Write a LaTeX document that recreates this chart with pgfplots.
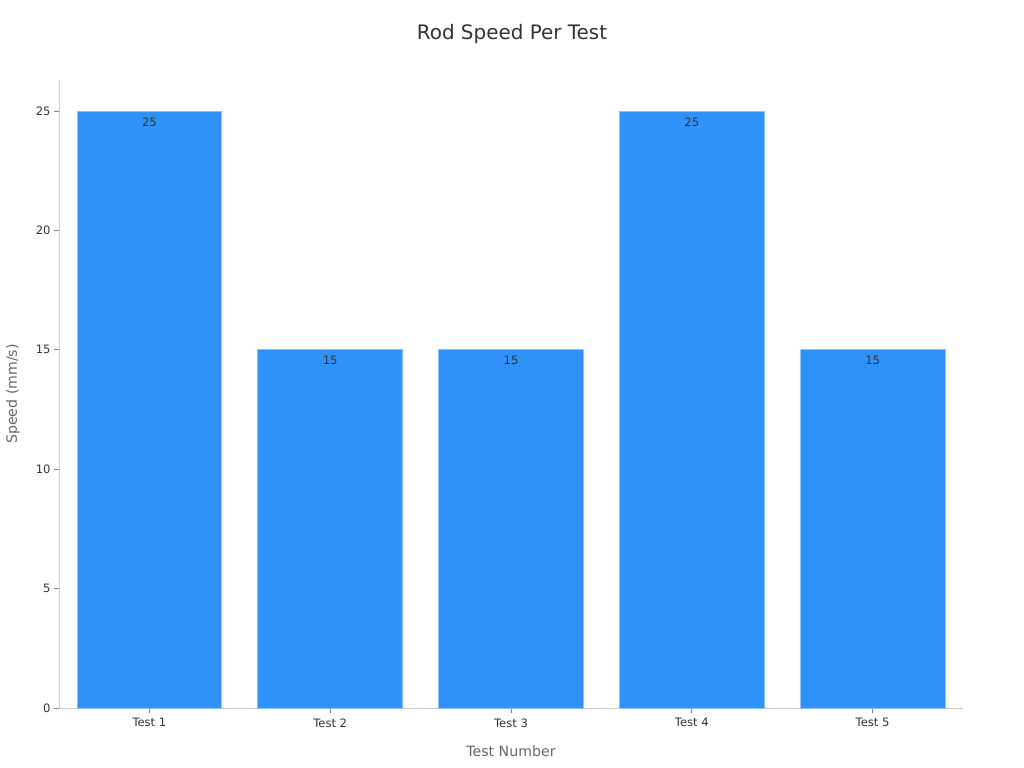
\documentclass[border=0pt]{standalone}
\usepackage{pgfplots}
\pgfplotsset{compat=1.18}
\usepackage{fontspec}
\setmainfont{DejaVu Sans}
\usetikzlibrary{calc}
\definecolor{barblue}{HTML}{2F92F9}
\definecolor{baredge}{HTML}{8CC2F8}
\definecolor{spine}{HTML}{CCCCCC}
\definecolor{txtdark}{HTML}{333333}
\definecolor{txtgray}{HTML}{666666}

\begin{document}
\begin{tikzpicture}
\begin{axis}[
    scale only axis,
    width=904bp, height=628bp,
    xmin=-0.5, xmax=4.5,
    ymin=0, ymax=26.3,
    xtick=data,
    xticklabels={Test 1, Test 2, Test 3, Test 4, Test 5},
    ytick={0,5,10,15,20,25},
    axis x line*=bottom,
    axis y line*=left,
    axis line style={draw=spine, line width=0.8bp},
    tick style={draw=gray, line width=0.8bp},
    tick align=outside,
    major tick length=5bp,
    /pgf/number format/assume math mode=true,
    tick label style={font=\fontsize{11.6}{13}\selectfont, text=txtdark},
    xticklabel style={yshift=-2bp},
    xlabel={Test Number},
    ylabel={Speed (mm/s)},
    label style={font=\fontsize{14.2}{16}\selectfont, text=txtgray},
    xlabel style={yshift=-12bp},
    ylabel style={yshift=9bp},
    ybar,
    bar width=0.8,
    bar shift=0pt,
    nodes near coords,
    every node near coord/.append style={anchor=north, yshift=-3bp,
        font=\fontsize{11.6}{13}\selectfont, text=txtdark},
]
\addplot[fill=barblue, draw=baredge, line width=0.8bp] coordinates {
    (0,25) (1,15) (2,15) (3,25) (4,15)
};
\end{axis}
\node[font=\fontsize{20}{24}\selectfont, text=txtdark] at ($(current axis.north)+(1bp,46bp)$) {Rod Speed Per Test};
\pgfresetboundingbox
\path[use as bounding box] ($(current axis.south west)+(-59bp,-60bp)$) rectangle ($(current axis.north east)+(61bp,80bp)$);
\end{tikzpicture}
\end{document}
